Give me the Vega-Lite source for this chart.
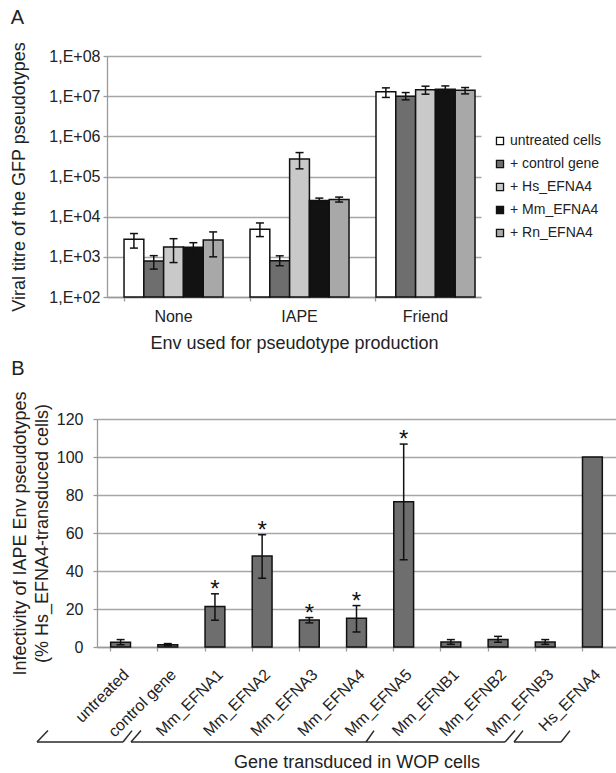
{
  "$schema": "https://vega.github.io/schema/vega-lite/v6.json",
  "padding": {"left": 10, "top": 7, "right": 0, "bottom": 0},
  "background": "white",
  "spacing": 6,
  "config": {
    "font": "Liberation Sans",
    "view": {"stroke": null},
    "axis": {
      "labelColor": "#222222",
      "titleColor": "#222222",
      "titleFontWeight": "normal",
      "labelFontSize": 16,
      "titleFontSize": 18,
      "domainColor": "#9a9a9a",
      "domainWidth": 1.3,
      "tickColor": "#9a9a9a",
      "tickWidth": 1.3,
      "gridColor": "#a6a6a6",
      "gridWidth": 1.4,
      "labelOverlap": false
    },
    "title": {"fontSize": 20, "fontWeight": "normal", "anchor": "start", "frame": "bounds", "color": "#222222"}
  },
  "datasets": {
    "genes": [
      {"gene": "untreated", "value": 2.5, "low": 1.2, "high": 3.9, "sig": ""},
      {"gene": "control gene", "value": 1.2, "low": 0.7, "high": 1.8, "sig": ""},
      {"gene": "Mm_EFNA1", "value": 21.3, "low": 14.1, "high": 28.0, "sig": "*"},
      {"gene": "Mm_EFNA2", "value": 47.9, "low": 36.2, "high": 59.1, "sig": "*"},
      {"gene": "Mm_EFNA3", "value": 14.2, "low": 12.7, "high": 15.5, "sig": "*"},
      {"gene": "Mm_EFNA4", "value": 15.1, "low": 7.9, "high": 21.8, "sig": "*"},
      {"gene": "Mm_EFNA5", "value": 76.4, "low": 45.9, "high": 106.8, "sig": "*"},
      {"gene": "Mm_EFNB1", "value": 2.6, "low": 1.4, "high": 3.9, "sig": ""},
      {"gene": "Mm_EFNB2", "value": 4.0, "low": 2.5, "high": 5.6, "sig": ""},
      {"gene": "Mm_EFNB3", "value": 2.6, "low": 1.4, "high": 3.9, "sig": ""},
      {"gene": "Hs_EFNA4", "value": 100, "low": null, "high": null, "sig": ""}
    ],
    "brackets": [
      {"bx1": -1.272, "bx2": 0.551, "by1": -50, "by2": -50},
      {"bx1": -1.272, "bx2": -1.039, "by1": -50, "by2": -44},
      {"bx1": 0.551, "bx2": 0.742, "by1": -50, "by2": -44},
      {"bx1": 0.721, "bx2": 8.648, "by1": -50, "by2": -50},
      {"bx1": 0.721, "bx2": 0.933, "by1": -50, "by2": -44},
      {"bx1": 5.702, "bx2": 5.871, "by1": -50, "by2": -44},
      {"bx1": 8.648, "bx2": 8.86, "by1": -50, "by2": -44},
      {"bx1": 8.838, "bx2": 9.835, "by1": -50, "by2": -50},
      {"bx1": 8.838, "bx2": 9.029, "by1": -50, "by2": -44},
      {"bx1": 9.835, "bx2": 10.025, "by1": -50, "by2": -44}
    ]
  },
  "vconcat": [
    {
      "title": {"text": "A", "offset": 14},
      "width": 374,
      "height": 241,
      "data": {
        "values": [
          {"env": "None", "treatment": "untreated cells", "value": 2740, "low": 1650, "high": 3800},
          {"env": "None", "treatment": "+ control gene", "value": 790, "low": 495, "high": 1070},
          {"env": "None", "treatment": "+ Hs_EFNA4", "value": 1760, "low": 720, "high": 2830},
          {"env": "None", "treatment": "+ Mm_EFNA4", "value": 1730, "low": 1300, "high": 2250},
          {"env": "None", "treatment": "+ Rn_EFNA4", "value": 2640, "low": 1000, "high": 4170},
          {"env": "IAPE", "treatment": "untreated cells", "value": 4850, "low": 3190, "high": 6970},
          {"env": "IAPE", "treatment": "+ control gene", "value": 800, "low": 600, "high": 1060},
          {"env": "IAPE", "treatment": "+ Hs_EFNA4", "value": 274000, "low": 155000, "high": 394000},
          {"env": "IAPE", "treatment": "+ Mm_EFNA4", "value": 25400, "low": 21000, "high": 29000},
          {"env": "IAPE", "treatment": "+ Rn_EFNA4", "value": 26900, "low": 23100, "high": 30700},
          {"env": "Friend", "treatment": "untreated cells", "value": 12800000, "low": 9300000, "high": 16100000},
          {"env": "Friend", "treatment": "+ control gene", "value": 10000000, "low": 8100000, "high": 12300000},
          {"env": "Friend", "treatment": "+ Hs_EFNA4", "value": 14400000, "low": 11200000, "high": 17700000},
          {"env": "Friend", "treatment": "+ Mm_EFNA4", "value": 14900000, "low": 11900000, "high": 18000000},
          {"env": "Friend", "treatment": "+ Rn_EFNA4", "value": 14100000, "low": 11400000, "high": 16400000}
        ]
      },
      "encoding": {
        "x": {
          "field": "env", "type": "nominal", "sort": ["None", "IAPE", "Friend"],
          "scale": {"range": [10, 384], "paddingInner": 0.214, "paddingOuter": 0.0913, "align": 0.74},
          "axis": {"title": "Env used for pseudotype production", "labelAngle": 0, "grid": false, "tickSize": 4, "labelPadding": 7, "titlePadding": 10, "bandPosition": 0}
        },
        "xOffset": {
          "field": "treatment", "type": "nominal",
          "sort": ["untreated cells", "+ control gene", "+ Hs_EFNA4", "+ Mm_EFNA4", "+ Rn_EFNA4"],
          "scale": {"paddingInner": 0, "paddingOuter": 0}
        }
      },
      "layer": [
        {
          "mark": {"type": "bar", "stroke": "#111111", "strokeWidth": 1.5},
          "encoding": {
            "y": {
              "field": "value", "type": "quantitative",
              "scale": {"type": "log", "domain": [100, 100000000], "nice": false},
              "axis": {
                "title": "Viral titre of the GFP pseudotypes",
                "values": [100, 1000, 10000, 100000, 1000000, 10000000, 100000000],
                "tickCount": 7,
                "labelExpr": "'1,E+0' + round(log(datum.value)/LN10)",
                "tickSize": 4, "labelPadding": 3, "titlePadding": 20, "grid": true, "offset": -10
              }
            },
            "y2": {"datum": 100},
            "fill": {
              "field": "treatment", "type": "nominal",
              "sort": ["untreated cells", "+ control gene", "+ Hs_EFNA4", "+ Mm_EFNA4", "+ Rn_EFNA4"],
              "scale": {"domain": ["untreated cells", "+ control gene", "+ Hs_EFNA4", "+ Mm_EFNA4", "+ Rn_EFNA4"], "range": ["#ffffff", "#6e6e6e", "#c9c9c9", "#121212", "#a8a8a8"]},
              "legend": {
                "title": null, "orient": "none", "legendX": 396, "legendY": 78,
                "symbolType": "square", "symbolSize": 50, "symbolStrokeColor": "#111111", "symbolStrokeWidth": 1.3,
                "symbolOpacity": 1, "labelFontSize": 14, "labelColor": "#222222", "rowPadding": 9, "labelOffset": 3, "padding": 0
              }
            }
          }
        },
        {
          "mark": {"type": "rule", "strokeWidth": 1.5, "color": "#111111"},
          "encoding": {"y": {"field": "low", "type": "quantitative"}, "y2": {"field": "high"}}
        },
        {
          "mark": {"type": "tick", "orient": "horizontal", "size": 8, "thickness": 1.5, "color": "#111111", "opacity": 1},
          "encoding": {"y": {"field": "low", "type": "quantitative"}}
        },
        {
          "mark": {"type": "tick", "orient": "horizontal", "size": 8, "thickness": 1.5, "color": "#111111", "opacity": 1},
          "encoding": {"y": {"field": "high", "type": "quantitative"}}
        }
      ]
    },
    {
      "title": {"text": "B", "offset": 12},
      "width": 519,
      "height": 228,
      "layer": [
        {
          "data": {"name": "genes"},
          "encoding": {
            "x": {
              "field": "gene", "type": "nominal", "sort": null,
              "scale": {"paddingInner": 0.58, "paddingOuter": 0.29},
              "axis": {"title": "Gene transduced in WOP cells", "labelAngle": -45, "grid": false, "tickSize": 4, "labelPadding": 15, "titlePadding": 14, "bandPosition": 0}
            }
          },
          "layer": [
            {
              "mark": {"type": "bar", "fill": "#6e6e6e", "stroke": "#111111", "strokeWidth": 1.5},
              "encoding": {
                "y": {
                  "field": "value", "type": "quantitative",
                  "scale": {"domain": [0, 120], "nice": false},
                  "axis": {
                    "title": ["Infectivity of IAPE Env pseudotypes", "(% Hs_EFNA4-transduced cells)"],
                    "titleLineHeight": 22,
                    "values": [0, 20, 40, 60, 80, 100, 120],
                    "tickCount": 7,
                    "tickSize": 4, "labelPadding": 10, "titlePadding": 5, "grid": true
                  }
                }
              }
            },
            {
              "mark": {"type": "rule", "strokeWidth": 1.5, "color": "#111111"},
              "encoding": {"y": {"field": "low", "type": "quantitative"}, "y2": {"field": "high"}}
            },
            {
              "mark": {"type": "tick", "orient": "horizontal", "size": 8, "thickness": 1.5, "color": "#111111", "opacity": 1},
              "encoding": {"y": {"field": "low", "type": "quantitative"}}
            },
            {
              "mark": {"type": "tick", "orient": "horizontal", "size": 8, "thickness": 1.5, "color": "#111111", "opacity": 1},
              "encoding": {"y": {"field": "high", "type": "quantitative"}}
            },
            {
              "mark": {"type": "text", "fontSize": 24, "baseline": "alphabetic", "dy": 3, "color": "#111111"},
              "encoding": {"y": {"field": "high", "type": "quantitative"}, "text": {"field": "sig"}}
            }
          ]
        },
        {
          "data": {"name": "brackets"},
          "mark": {"type": "rule", "strokeWidth": 1.5, "color": "#2a2a2a"},
          "encoding": {
            "x": {"field": "bx1", "type": "quantitative", "scale": {"domain": [0, 11], "nice": false, "zero": false}, "axis": null},
            "x2": {"field": "bx2"},
            "y": {
              "field": "by1", "type": "quantitative", "scale": {"domain": [0, 120], "nice": false},
              "axis": {
                "title": ["Infectivity of IAPE Env pseudotypes", "(% Hs_EFNA4-transduced cells)"],
                "titleLineHeight": 22,
                "values": [0, 20, 40, 60, 80, 100, 120],
                "tickCount": 7,
                "tickSize": 4, "labelPadding": 10, "titlePadding": 5, "grid": true
              }
            },
            "y2": {"field": "by2"}
          }
        }
      ],
      "resolve": {"scale": {"x": "independent"}, "axis": {"x": "independent"}}
    }
  ]
}
